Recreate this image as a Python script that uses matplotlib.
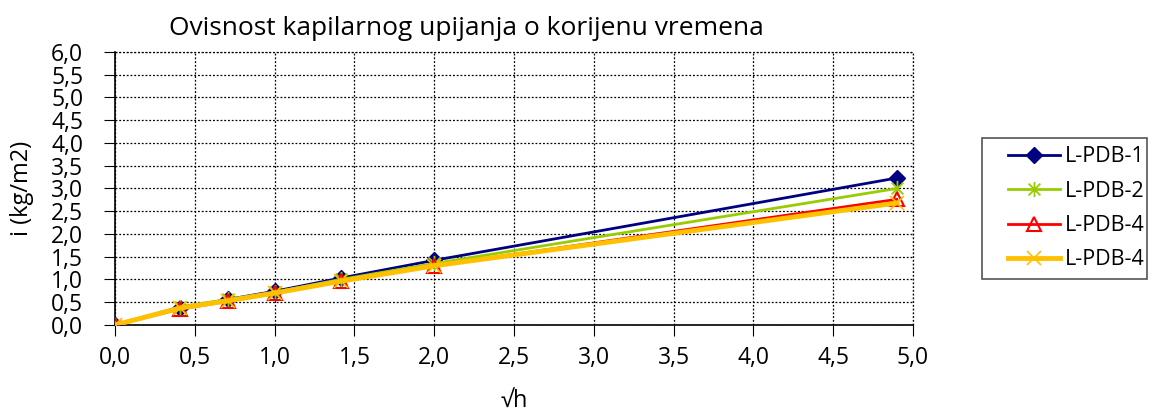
import matplotlib
matplotlib.use("Agg")
from matplotlib import pyplot as plt
from matplotlib.patches import Rectangle
from matplotlib.path import Path
from matplotlib.ticker import FuncFormatter, MultipleLocator

plt.rcParams['font.family'] = ['Open Sans', 'DejaVu Sans']

# sqrt of time in hours
x = [0.0, 0.408, 0.707, 1.0, 1.414, 2.0, 4.899]

pdb1 = [0.0, 0.37, 0.56, 0.74, 1.03, 1.42, 3.23]
pdb2 = [0.0, 0.40, 0.56, 0.72, 1.00, 1.35, 3.00]
pdb4a = [0.0, 0.35, 0.52, 0.70, 0.96, 1.30, 2.76]
pdb4b = [0.0, 0.37, 0.53, 0.70, 0.96, 1.30, 2.68]

names = ['L-PDB-1', 'L-PDB-2', 'L-PDB-4', 'L-PDB-4']

# excel style star: x with a vertical bar
star = Path([(-1, -1), (1, 1), (-1, 1), (1, -1), (0, -1.3), (0, 1.3)],
            [Path.MOVETO, Path.LINETO] * 3)

fig = plt.figure(figsize=(11.75, 4.16), dpi=100)
ax = fig.add_axes([0.098, 0.219, 0.679, 0.656])

ax.plot(x, pdb1, color='#000080', lw=2, marker='D', ms=8, label=names[0], zorder=3)
ax.plot(x, pdb2, color='#99cc00', lw=2, marker=star, ms=11, mew=1.3, mfc='none', label=names[1], zorder=3)
ax.plot(x, pdb4a, color='#ff0000', lw=2, marker='^', ms=10, mfc='none', mew=1.5, label=names[2], zorder=3)
ax.plot(x, pdb4b, color='#ffc000', lw=3.5, marker='x', ms=10, mew=1.2, label=names[3], zorder=3)

ax.set_xlim(0, 5)
ax.set_ylim(0, 6)
ax.xaxis.set_major_locator(MultipleLocator(0.5))
ax.yaxis.set_major_locator(MultipleLocator(0.5))
fmt = FuncFormatter(lambda v, p: f"{v:.1f}".replace('.', ','))
ax.xaxis.set_major_formatter(fmt)
ax.yaxis.set_major_formatter(fmt)
ax.tick_params(direction='out', length=8, labelsize=16.5)
ax.tick_params(axis='y', pad=15)
ax.tick_params(axis='x', pad=7)
ax.grid(True, color='black', linestyle=(0, (1.5, 1.5)), lw=0.9)

for side in ['top', 'right']:
    ax.spines[side].set_visible(False)
ax.plot([5, 5], [0, 6], color='black', lw=0.9, ls=(0, (1.5, 1.5)), clip_on=False)
ax.plot([0, 5], [6, 6], color='black', lw=0.9, ls=(0, (1.5, 1.5)), clip_on=False)
ax.spines['left'].set_linewidth(1.2)
ax.spines['bottom'].set_linewidth(1.2)

ax.set_title('Ovisnost kapilarnog upijanja o korijenu vremena', fontsize=19, pad=12, x=0.44)
ax.set_xlabel('√h', fontsize=17, labelpad=14)
ax.set_ylabel('i (kg/m2)', fontsize=17, labelpad=12)

# legend frame drawn separately
fig.patches.append(Rectangle((0.8357, 0.3293), 0.1404, 0.339, transform=fig.transFigure,
                             fill=False, edgecolor='#555555', lw=1.2))
h = ax.get_legend_handles_labels()
leg = fig.legend(h[0], h[1], loc='center left', bbox_to_anchor=(0.858, 0.499),
                 fontsize=15.5, frameon=False, handlelength=2.4, handletextpad=0.25,
                 borderpad=0, borderaxespad=0, labelspacing=0.62)

plt.savefig('out.png')
